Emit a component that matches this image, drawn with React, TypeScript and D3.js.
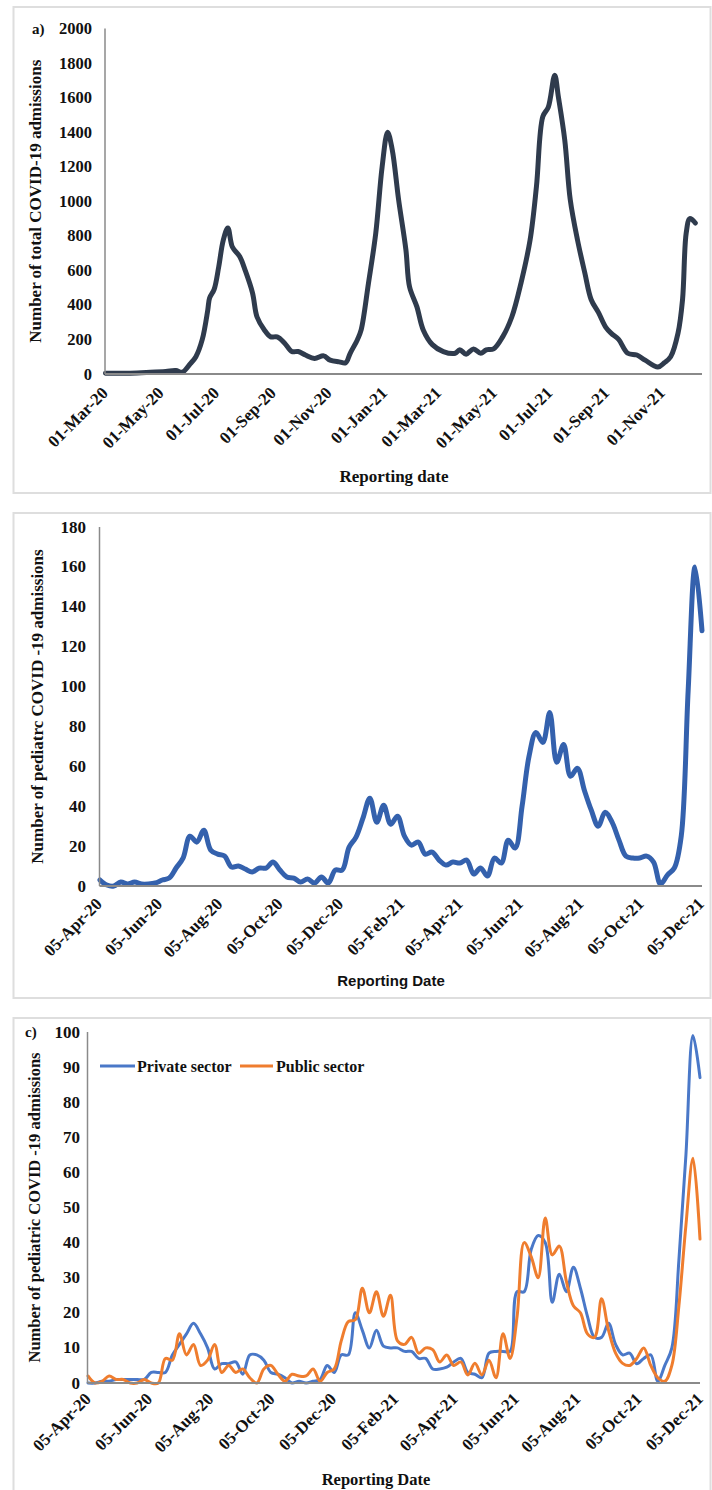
import React from "react";
import * as d3 from "d3";

// ---------- Panel a: total admissions ----------
const aDates = ["2020-03-01","2020-03-28","2020-04-19","2020-05-06","2020-05-17","2020-05-24","2020-06-02","2020-06-08","2020-06-15","2020-06-21","2020-06-23","2020-06-28","2020-07-03","2020-07-08","2020-07-13","2020-07-18","2020-07-26","2020-08-01","2020-08-09","2020-08-14","2020-08-22","2020-08-29","2020-09-05","2020-09-13","2020-09-21","2020-09-28","2020-10-06","2020-10-16","2020-10-26","2020-11-02","2020-11-12","2020-11-19","2020-11-24","2020-12-02","2020-12-06","2020-12-14","2020-12-22","2020-12-29","2021-01-04","2021-01-09","2021-01-16","2021-01-24","2021-01-28","2021-02-05","2021-02-12","2021-02-22","2021-03-06","2021-03-19","2021-03-24","2021-03-31","2021-04-08","2021-04-16","2021-04-22","2021-04-30","2021-05-10","2021-05-20","2021-05-30","2021-06-09","2021-06-16","2021-06-23","2021-06-29","2021-07-06","2021-07-10","2021-07-17","2021-07-23","2021-07-31","2021-08-08","2021-08-15","2021-08-23","2021-08-31","2021-09-06","2021-09-14","2021-09-24","2021-10-04","2021-10-13","2021-10-27","2021-11-03","2021-11-10","2021-11-18","2021-11-23","2021-11-27","2021-12-01","2021-12-07"];
const aValues = [5,5,10,15,20,10,60,100,200,370,440,490,620,775,845,735,680,600,470,330,255,215,215,180,130,130,110,90,105,80,70,65,120,200,255,525,815,1200,1400,1300,1010,720,505,390,255,170,130,120,140,115,145,120,140,145,215,330,525,775,1085,1490,1545,1730,1605,1355,1010,775,585,430,355,270,235,200,120,110,80,40,65,100,235,430,815,900,874];
const aXTicks = ["01-Mar-20","01-May-20","01-Jul-20","01-Sep-20","01-Nov-20","01-Jan-21","01-Mar-21","01-May-21","01-Jul-21","01-Sep-21","01-Nov-21"];
const aYTicks = [0,200,400,600,800,1000,1200,1400,1600,1800,2000];

// ---------- Panels b and c: weekly pediatric admissions ----------
const weekStart = "2020-04-05";
const bValues = [3,0.5,0,2,1,2,1,1,1.5,3, 4,9,14,25,22,28,18,16,15,9.5, 10,8.5,7,9,9,12,8,4.5,4,2, 3.5,1.5,4.5,1.5,8,8,19.5,24.5,34,44, 32,40.5,31,35,25,20.5,22,16,17,13, 10.5,12,11.5,13,6,9,5,14,11.5,23, 19,40,65,77,72,87,62,71,55,59, 48,38,30,37,32,23,15,14,14,15, 12,1,5.5,9,25,98,160,128];
const cPrivate = [0,0,0.5,0.5,1,1,1,1,1,3, 3,3,8,11,14,17,14,10,4,5.5, 5.5,6,2.5,8,8,6.5,3,2.5,1.5,0, 0.5,0,0.5,1,5,3,8,8,20,15, 10,15,10.5,10,10,9,9,7,7,4, 4,4.5,6,7,3,2.5,1.5,8.5,9,9, 9,26,26,38,42,40,23,31,26,33, 27,19,13,13,17,11,8,8.5,5.5,7, 8,0.5,5,10,35,65,99,87];
const cPublic = [2,0,0.5,2,1,1,0,0,1,0, 0,7,6.5,14,8,11,5,6.5,11,3, 5,3,4,1.5,0,4,5,2.5,0.5,2.5, 2,2,4,0.5,3,4,12,17.5,18,27, 20,26,19,25,12,11,13,8.5,10,9.5, 6,8,5,6,2.3,5.6,2.3,6.5,1.5,14, 7,19,40,36,30,47,36.5,39,29,22, 20,14,13,24,15,8.5,5.6,5,7,10, 5,1.5,0.5,5,22,45,64,41];
const bcXTicks = ["05-Apr-20","05-Jun-20","05-Aug-20","05-Oct-20","05-Dec-20","05-Feb-21","05-Apr-21","05-Jun-21","05-Aug-21","05-Oct-21","05-Dec-21"];
const bYTicks = [0,20,40,60,80,100,120,140,160,180];
const cYTicks = [0,10,20,30,40,50,60,70,80,90,100];
const cSeriesNames = ["Private sector", "Public sector"];

const parseISO = d3.timeParse("%Y-%m-%d");
const parseTick = d3.timeParse("%d-%b-%y");
const weekDates = bValues.map((_, i) => d3.timeDay.offset(parseISO(weekStart) as Date, 7 * i));

const SERIF = "'Liberation Serif', 'Times New Roman', serif";
const SANS = "'Liberation Sans', Arial, sans-serif";
const AXIS = "#8a8a8a";
const FRAME = "#dedede";

type Series = { dates: Date[]; values: number[]; color: string; width: number; curve: any };

function Panel(props: {
  frameTop: number;
  frameBottom: number;
  x: d3.ScaleTime<number, number>;
  y: d3.ScaleLinear<number, number>;
  axisEnd: number;
  yTicks: number[];
  yLabelX: number;
  yFont: number;
  xTicks: string[];
  xTickDx: number;
  xTickDy: number;
  xFont: number;
  series: Series[];
  yTitle: string;
  yTitleX: number;
  yTitleFont: number;
  xTitle: string;
  xTitleX: number;
  xTitleY: number;
  xTitleFont: number;
  xTitleFamily: string;
  tag?: string;
  tagX?: number;
}) {
  const { x, y } = props;
  const [x0] = x.range();
  const y0 = y(0);
  const yTop = y(props.yTicks[props.yTicks.length - 1]);
  const yMid = (y0 + yTop) / 2;
  return (
    <g>
      <rect x={13.5} y={props.frameTop} width={697} height={props.frameBottom - props.frameTop} fill="#fff" stroke={FRAME} strokeWidth={2} />
      {props.tag && (
        <text x={props.tagX} y={yTop} dominantBaseline="central" fontFamily={SERIF} fontWeight="bold" fontSize={15} fill="#111">{props.tag}</text>
      )}
      {props.yTicks.map((t) => (
        <text key={t} x={props.yLabelX} y={y(t)} textAnchor="end" dominantBaseline="central" fontFamily={SERIF} fontWeight="bold" fontSize={props.yFont} fill="#111">{t}</text>
      ))}
      {props.series.map((s, k) => {
        const line = d3.line<number>()
          .x((_, i) => x(s.dates[i]))
          .y((v) => y(v))
          .curve(s.curve);
        return <path key={k} d={line(s.values) || ""} fill="none" stroke={s.color} strokeWidth={s.width} strokeLinejoin="round" strokeLinecap="round" />;
      })}
      <line x1={x0 - 0.5} x2={x0 - 0.5} y1={yTop} y2={y0} stroke={AXIS} strokeWidth={1.5} />
      <line x1={x0 - 0.5} x2={props.axisEnd} y1={y0} y2={y0} stroke={AXIS} strokeWidth={2} />
      {props.xTicks.map((t) => {
        const px = x(parseTick(t) as Date) + props.xTickDx;
        const py = y0 + props.xTickDy;
        return (
          <text key={t} x={px} y={py} textAnchor="end" transform={`rotate(-45 ${px} ${py})`} fontFamily={SERIF} fontWeight="bold" fontSize={props.xFont} fill="#111">{t}</text>
        );
      })}
      <text x={props.yTitleX} y={yMid} textAnchor="middle" dominantBaseline="central" transform={`rotate(-90 ${props.yTitleX} ${yMid})`} fontFamily={SERIF} fontWeight="bold" fontSize={props.yTitleFont} fill="#111">{props.yTitle}</text>
      <text x={props.xTitleX} y={props.xTitleY} textAnchor="middle" dominantBaseline="central" fontFamily={props.xTitleFamily} fontWeight="bold" fontSize={props.xTitleFont} fill="#111">{props.xTitle}</text>
    </g>
  );
}

export default function App() {
  const curve = d3.curveCatmullRom.alpha(0.5);

  const xa = d3.scaleTime().domain([parseISO("2020-03-01") as Date, parseISO("2021-12-14") as Date]).range([105.5, 701.7]);
  const ya = d3.scaleLinear().domain([0, 2000]).range([374, 28.5]);

  const xb = d3.scaleTime().domain([parseISO("2020-04-05") as Date, parseISO("2021-12-05") as Date]).range([100, 702]);
  const yb = d3.scaleLinear().domain([0, 180]).range([886, 527]);

  const xc = d3.scaleTime().domain([parseISO("2020-04-05") as Date, parseISO("2021-12-05") as Date]).range([88, 700]);
  const yc = d3.scaleLinear().domain([0, 100]).range([1383, 1032]);

  const aDateObjs = aDates.map((d) => parseISO(d) as Date);

  const legendY = 1066;
  return (
    <svg width={712} height={1490} style={{ position: "absolute", left: 0, top: 0, background: "#fff" }}>
      <rect x={0} y={0} width={712} height={1490} fill="#fff" />
      <Panel
        frameTop={7} frameBottom={493}
        x={xa} y={ya} axisEnd={702}
        yTicks={aYTicks} yLabelX={92} yFont={16.5}
        xTicks={aXTicks} xTickDx={3.5} xTickDy={20} xFont={17}
        series={[{ dates: aDateObjs, values: aValues, color: "#2f3b4d", width: 5, curve }]}
        yTitle="Number of total COVID-19 admissions" yTitleX={35} yTitleFont={17}
        xTitle="Reporting date" xTitleX={394} xTitleY={476} xTitleFont={17} xTitleFamily={SERIF}
        tag="a)" tagX={32}
      />
      <Panel
        frameTop={513} frameBottom={998}
        x={xb} y={yb} axisEnd={702}
        yTicks={bYTicks} yLabelX={86} yFont={17}
        xTicks={bcXTicks} xTickDx={3} xTickDy={19} xFont={17}
        series={[{ dates: weekDates, values: bValues, color: "#3461ad", width: 5, curve }]}
        yTitle="Number of pediatrc COVID -19 admissions" yTitleX={37} yTitleFont={17}
        xTitle="Reporting Date" xTitleX={391} xTitleY={980} xTitleFont={15} xTitleFamily={SANS}
      />
      <Panel
        frameTop={1018} frameBottom={1500}
        x={xc} y={yc} axisEnd={700}
        yTicks={cYTicks} yLabelX={80} yFont={17}
        xTicks={bcXTicks} xTickDx={4} xTickDy={17} xFont={17}
        series={[
          { dates: weekDates, values: cPrivate, color: "#4a78c8", width: 3, curve },
          { dates: weekDates, values: cPublic, color: "#ef7d2e", width: 3, curve },
        ]}
        yTitle="Number of pediatric COVID -19 admissions" yTitleX={34} yTitleFont={16.5}
        xTitle="Reporting Date" xTitleX={376} xTitleY={1479} xTitleFont={16.5} xTitleFamily={SERIF}
        tag="c)" tagX={25}
      />
      <g>
        <line x1={100} x2={135} y1={legendY} y2={legendY} stroke="#4a78c8" strokeWidth={3} />
        <text x={137} y={legendY} dominantBaseline="central" fontFamily={SERIF} fontWeight="bold" fontSize={16} fill="#111">{cSeriesNames[0]}</text>
        <line x1={240} x2={273} y1={legendY} y2={legendY} stroke="#ef7d2e" strokeWidth={3} />
        <text x={276} y={legendY} dominantBaseline="central" fontFamily={SERIF} fontWeight="bold" fontSize={16} fill="#111">{cSeriesNames[1]}</text>
      </g>
    </svg>
  );
}
